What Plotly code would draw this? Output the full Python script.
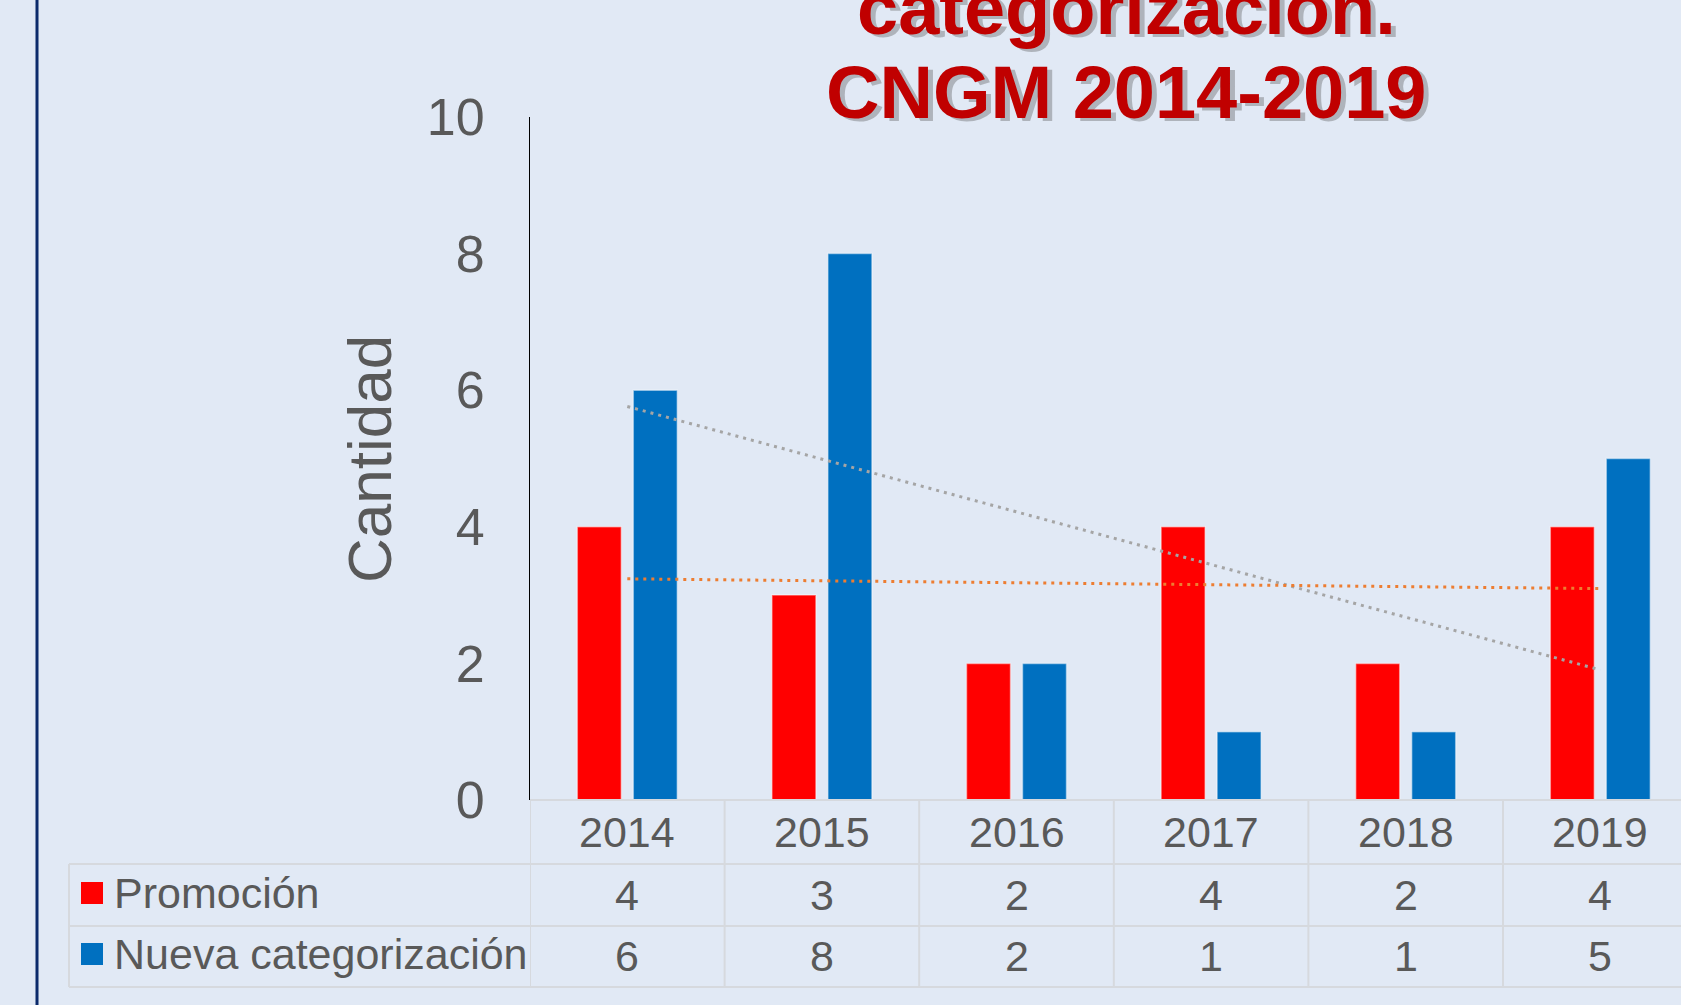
import numpy as np
import plotly.graph_objects as go

# ---------------- data ----------------
years = ["2014", "2015", "2016", "2017", "2018", "2019"]
promocion = [4, 3, 2, 4, 2, 4]
nueva = [6, 8, 2, 1, 1, 5]
series_names = ["Promoción", "Nueva categorización"]
y_ticks = [0, 2, 4, 6, 8, 10]
title_lines = ["categorización.", "CNGM 2014-2019"]
y_title = "Cantidad"

# ---------------- styling ----------------
W, H = 1681, 1005
BG = "#E1E9F5"
RED = "#FF0000"
BLUE = "#0070C0"
TXT = "#595959"
GRID = "#D6D9DE"
FONT = "Liberation Sans, Arial, sans-serif"

x_left_px = 530
cat_w_px = 194.6
n_vis = (W - x_left_px) / cat_w_px
y_bot_px, y_top_px = 800, 117


def px_x(p):
    return p / W


def px_y(p):
    return 1 - p / H


fig = go.Figure()
fig.add_trace(go.Bar(x=years, y=promocion, name=series_names[0],
                     marker=dict(color=RED, line=dict(color="rgba(255,255,255,0.45)", width=1.5))))
fig.add_trace(go.Bar(x=years, y=nueva, name=series_names[1],
                     marker=dict(color=BLUE, line=dict(color="rgba(255,255,255,0.45)", width=1.5))))

# linear trendlines (least squares over category index)
idx = np.arange(1, len(years) + 1)
for vals, col in [(nueva, "#A5A5A5"), (promocion, "#ED7D31")]:
    m, b = np.polyfit(idx, vals, 1)
    fig.add_trace(go.Scatter(x=[years[0], years[-1]], y=[m * idx[0] + b, m * idx[-1] + b],
                             mode="lines", line=dict(color=col, width=3, dash="3px,5px"),
                             showlegend=False, hoverinfo="skip"))

shapes = []
annotations = []

# left navy rule
shapes.append(dict(type="line", xref="paper", yref="paper", x0=px_x(37), x1=px_x(37), y0=0, y1=1,
                   line=dict(color="#0B2A6B", width=3)))

# table horizontal lines
shapes.append(dict(type="line", xref="paper", yref="paper", x0=px_x(x_left_px), x1=1,
                   y0=px_y(800), y1=px_y(800), line=dict(color=GRID, width=2)))
for yy in [864, 926, 987]:
    shapes.append(dict(type="line", xref="paper", yref="paper", x0=px_x(69), x1=1,
                       y0=px_y(yy), y1=px_y(yy), line=dict(color=GRID, width=2)))
shapes.append(dict(type="line", xref="paper", yref="paper", x0=px_x(69), x1=px_x(69),
                   y0=px_y(864), y1=px_y(987), line=dict(color=GRID, width=2)))
# category boundaries (through the x axis scale)
for i in range(len(years) + 1):
    shapes.append(dict(type="line", xref="x", yref="paper", x0=i - 0.5, x1=i - 0.5,
                       y0=px_y(800), y1=px_y(987), line=dict(color=GRID, width=2)))

# legend keys
for name, col, cy in [(series_names[0], RED, 893), (series_names[1], BLUE, 954)]:
    shapes.append(dict(type="rect", xref="paper", yref="paper", x0=px_x(81), x1=px_x(103),
                       y0=px_y(cy - 11), y1=px_y(cy + 11), fillcolor=col, line=dict(width=0)))
    annotations.append(dict(text=name, xref="paper", yref="paper", x=px_x(112), y=px_y(cy),
                            xanchor="left", yanchor="middle", showarrow=False,
                            font=dict(family=FONT, size=43, color=TXT)))

# table cells (category index positions on the x axis)
for i, yr in enumerate(years):
    for txt, cy in [(yr, 832), (str(promocion[i]), 895), (str(nueva[i]), 956)]:
        annotations.append(dict(text=txt, xref="x", yref="paper", x=i, y=px_y(cy),
                                xanchor="center", yanchor="middle", showarrow=False,
                                font=dict(family=FONT, size=43, color=TXT)))

# y axis title
annotations.append(dict(text=y_title, xref="paper", yref="paper", x=px_x(370), y=px_y(459),
                        textangle=-90, xanchor="center", yanchor="middle", showarrow=False,
                        font=dict(family=FONT, size=62, color=TXT)))

# title lines with shadow
for line, cy in [(title_lines[0], 8), (title_lines[1], 93)]:
    annotations.append(dict(text=f"<b>{line}</b>", xref="paper", yref="paper", x=px_x(1128),
                            y=px_y(cy), xanchor="center", yanchor="middle", showarrow=False,
                            xshift=3, yshift=-3,
                            font=dict(family=FONT, size=74, color="rgba(80,80,80,0.35)")))
    annotations.append(dict(text=f"<b>{line}</b>", xref="paper", yref="paper", x=px_x(1126),
                            y=px_y(cy), xanchor="center", yanchor="middle", showarrow=False,
                            font=dict(family=FONT, size=74, color="#C00000")))

fig.update_layout(
    width=W, height=H,
    margin=dict(l=0, r=0, t=0, b=0, autoexpand=False),
    paper_bgcolor=BG, plot_bgcolor=BG,
    showlegend=False,
    barmode="group", bargap=0.4245, bargroupgap=0.214,
    shapes=shapes, annotations=annotations,
    font=dict(family=FONT, color=TXT),
)
fig.update_xaxes(type="category", categoryorder="array", categoryarray=years,
                 range=[-0.5, -0.5 + n_vis], domain=[px_x(x_left_px), 1], automargin=False,
                 showticklabels=False, showgrid=False, zeroline=False, showline=False, ticks="")
fig.update_yaxes(range=[0, 10], tickvals=y_ticks, domain=[px_y(y_bot_px), px_y(y_top_px)],
                 automargin=False,
                 showgrid=False, zeroline=False, showline=True, linecolor="black", linewidth=1,
                 ticks="", ticklabelstandoff=34,
                 tickfont=dict(family=FONT, size=52, color=TXT))

fig.write_html("out.html", config={"displayModeBar": False},
               post_script="document.body.style.margin='0';document.body.style.overflow='hidden';")
